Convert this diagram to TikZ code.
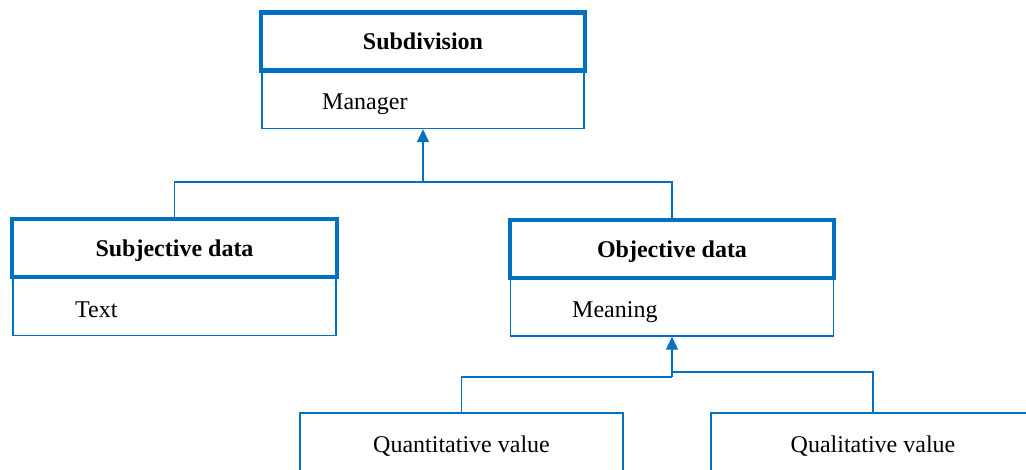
\documentclass[tikz,border=0pt]{standalone}
\usepackage{fontspec}
\setmainfont{Liberation Serif}
\usetikzlibrary{arrows.meta}
\definecolor{umlblue}{HTML}{0070C0}
\tikzset{
  headbox/.style={draw=umlblue, line width=4.5pt, fill=white, minimum width=#1, minimum height=58pt,
    inner sep=0pt, text height=19pt, text depth=2pt, font=\fontsize{24}{28}\selectfont\bfseries},
  bodybox/.style={draw=umlblue, line width=1.5pt, fill=white, minimum width=#1, minimum height=58pt,
    inner sep=0pt},
  label/.style={anchor=west, inner sep=0pt, text height=19pt, text depth=2pt, font=\fontsize{24}{28}\selectfont},
  plainbox/.style={draw=umlblue, line width=2pt, fill=white, minimum width=#1, minimum height=80pt,
    inner sep=0pt},
  valtext/.style={inner sep=0pt, text height=19pt, text depth=2pt, font=\fontsize{24}{28}\selectfont},
  link/.style={draw=umlblue, line width=1.5pt},
  inherit/.style={link, -{Triangle[length=13pt,width=12pt]}}
}
\begin{document}
\begin{tikzpicture}[x=1pt, y=-1pt]
\clip (0,0) rectangle (1026,470);
\fill[white] (0,0) rectangle (1026,470);

% Subdivision class
\node[bodybox=322pt] (subdb) at (423,99.5) {};
\node[headbox=324pt] (subdh) at (423,41.5) {Subdivision};
\node[label] (subdt) at (322,101) {Manager};

% Subjective data class
\node[bodybox=323pt] (subjb) at (174.5,306.5) {};
\node[headbox=325pt] (subjh) at (174.5,248) {Subjective data};
\node[label] (subjt) at (75,309) {Text};

% Objective data class
\node[bodybox=323pt] (objb) at (672,307) {};
\node[headbox=324pt] (objh) at (672,249) {Objective data};
\node[label] (objt) at (572,309) {Meaning};

% Value classes
\node[plainbox=323pt] (quant) at (461.5,453) {};
\node[valtext] (quantt) at (461.5,444) {Quantitative value};
\node[plainbox=324pt] (qual) at (873,453) {};
\node[valtext] (qualt) at (873,444) {Qualitative value};

% Generalisation connectors
\coordinate (j1) at (423,182);
\coordinate (j2a) at (672,377);
\coordinate (j2b) at (672,372);
\draw[link] (subjh.north) |- (j1);
\draw[link] (objh.north) |- (j1);
\draw[inherit] (j1) -- (subdb.south);
\draw[link] (quant.north) |- (j2a);
\draw[link] (qual.north) |- (j2b);
\draw[inherit] (j2a) -- (objb.south);
\end{tikzpicture}
\end{document}
